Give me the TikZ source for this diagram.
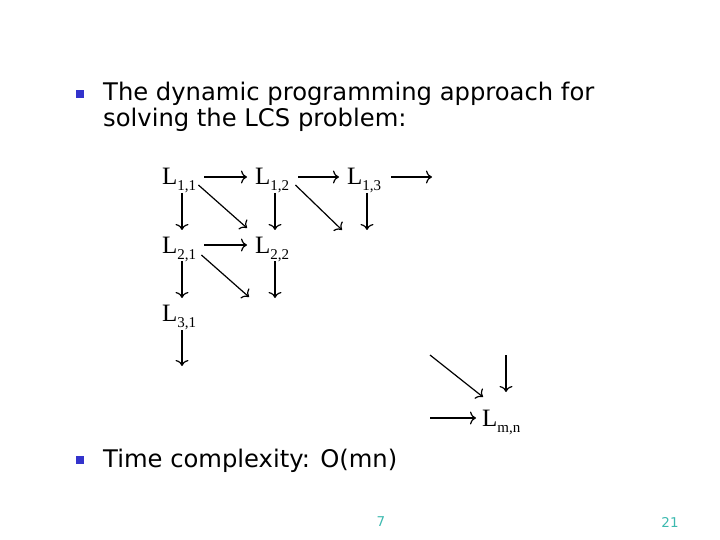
\documentclass[tikz,border=0pt]{standalone}
\usepackage{fontspec}
\usepackage{tikz}
\usetikzlibrary{calc,arrows.meta}

\setmainfont{DejaVu Sans}
\newfontfamily\lfont{Liberation Serif}

\definecolor{bulletblue}{RGB}{51,51,204}
\definecolor{pageteal}{RGB}{60,185,175}

% L with a lowered subscript
\newcommand{\lcs}[1]{L\raisebox{-6pt}{\fontsize{15}{15}\selectfont #1}}

\tikzset{
  txt/.style={anchor=base west, inner sep=0pt, font=\fontsize{24.25}{26}\selectfont},
  bul/.style={fill=bulletblue, inner sep=0pt, minimum size=8pt},
  lbl/.style={anchor=base west, inner sep=0pt, font=\lfont\fontsize{25}{25}\selectfont},
  link/.style={-{To[length=6pt,width=13pt]}, line width=1.2pt},
  pnum/.style={inner sep=0pt, text=pageteal, font=\fontsize{13.5}{13.5}\selectfont}
}

\begin{document}
\begin{tikzpicture}[x=1pt, y=-1pt]
  \useasboundingbox (0,0) rectangle (720,540);

  % Bullet text
  \node[bul] (b1) at (80,94) {};
  \node[txt] (t1) at (103,101) {The dynamic programming approach for};
  \node[txt] (t2) at (103,127) {solving the LCS problem:};

  \node[bul] (b2) at (80,460) {};
  \node[txt] (t3) at (103,467) {Time complexity: O(mn)};

  % Table entries
  \node[lbl] (l11) at (162,185) {\lcs{1,1}};
  \node[lbl] (l12) at (255,185) {\lcs{1,2}};
  \node[lbl] (l13) at (347,185) {\lcs{1,3}};

  \node[lbl] (l21) at (162,253) {\lcs{2,1}};
  \node[lbl] (l22) at (255,253) {\lcs{2,2}};

  \node[lbl] (l31) at (162,321) {\lcs{3,1}};

  \node[lbl] (lmn) at (482,426) {\lcs{m,n}};

  % Free arrow ends
  \coordinate (r13) at (432,177);
  \coordinate (d13) at (367,230);
  \coordinate (x12) at (342,230);
  \coordinate (x21) at (249,297);
  \coordinate (d22) at (275,298);
  \coordinate (d31) at (182,366);
  \coordinate (hmn) at (430,418);
  \coordinate (vmn) at (506,355);
  \coordinate (xmn) at (430,355);

  % Row 1
  \draw[link] ($(l11.base east)+(8,-8)$) -- ($(l12.base west)+(-8,-8)$);
  \draw[link] ($(l12.base east)+(9,-8)$) -- ($(l13.base west)+(-8,-8)$);
  \draw[link] ($(l13.base east)+(10,-8)$) -- (r13);
  \draw[link] ($(l11.base west)+(20,8)$) -- ($(l21.base west)+(20,-23)$);
  \draw[link] ($(l12.base west)+(20,8)$) -- ($(l22.base west)+(20,-23)$);
  \draw[link] ($(l13.base west)+(20,8)$) -- (d13);
  \draw[link] ($(l11.base east)+(2,0)$) -- ($(l22.base west)+(-8,-25)$);
  \draw[link] ($(l12.base east)+(6,0)$) -- (x12);

  % Row 2
  \draw[link] ($(l21.base east)+(8,-8)$) -- ($(l22.base west)+(-8,-8)$);
  \draw[link] ($(l21.base west)+(20,8)$) -- ($(l31.base west)+(20,-23)$);
  \draw[link] ($(l22.base west)+(20,8)$) -- (d22);
  \draw[link] ($(l21.base east)+(5,2)$) -- (x21);

  % Row 3
  \draw[link] ($(l31.base west)+(20,9)$) -- (d31);

  % Last entry
  \draw[link] (hmn) -- ($(lmn.base west)+(-6,-8)$);
  \draw[link] (vmn) -- ($(lmn.base west)+(24,-34)$);
  \draw[link] (xmn) -- ($(lmn.base west)+(1,-29)$);

  % Page numbers
  \node[pnum] (p1) at (381,522) {7};
  \node[pnum] (p2) at (670,522) {21};
\end{tikzpicture}
\end{document}
